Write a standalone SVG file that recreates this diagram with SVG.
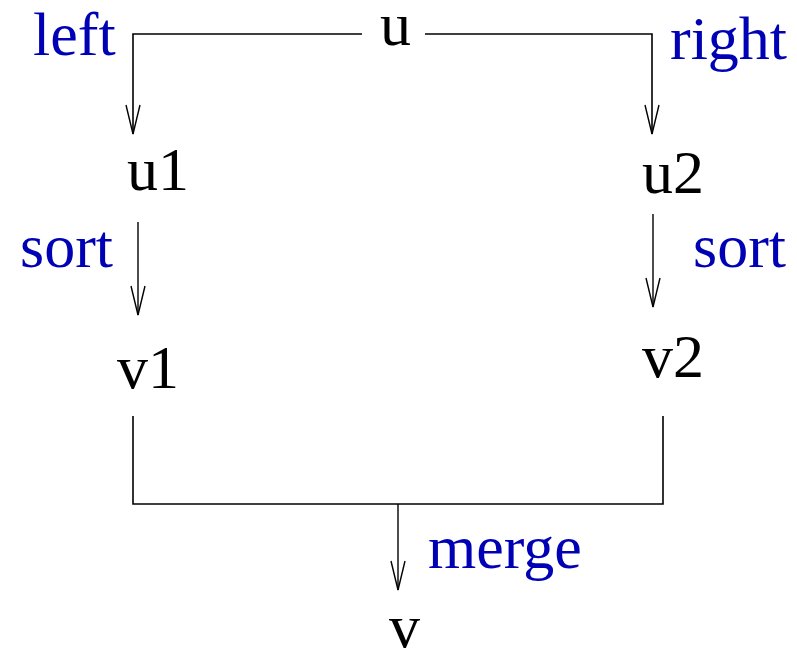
<svg xmlns="http://www.w3.org/2000/svg" width="797" height="648" viewBox="0 0 797 648">
<style>
.n{font-family:"Liberation Serif","Times New Roman",serif;font-size:62px;fill:#000}
.l{font-family:"Liberation Serif","Times New Roman",serif;font-size:62px;fill:#0000b4}
.c{fill:none;stroke:#000;stroke-width:1.6}
.a{fill:none;stroke:#000;stroke-width:1.4}
</style>
<defs>
<marker id="arr" markerUnits="userSpaceOnUse" markerWidth="40" markerHeight="20" viewBox="-30 -10 32 20" refX="0" refY="0" orient="auto" overflow="visible">
<path d="M-29,-7 L0,0 L-29,7" fill="none" stroke="#000" stroke-width="1.4"/>
</marker>
</defs>
<rect width="797" height="648" fill="#fff"/>
<g id="connectors">
<path class="c" d="M362,34 H133 V134" marker-end="url(#arr)"/>
<path class="c" d="M425,34 H652 V134" marker-end="url(#arr)"/>
<path class="a" d="M138,222 V315" marker-end="url(#arr)"/>
<path class="a" d="M653,214 V307" marker-end="url(#arr)"/>
<path class="c" d="M133,416 V504 H663 V416" stroke-width="2"/>
<path class="a" d="M398,504 V590" marker-end="url(#arr)"/>
</g>
<g id="labels">
<text class="l" x="33" y="55">left</text>
<text class="l" x="670" y="59">right</text>
<text class="l" x="20" y="267">sort</text>
<text class="l" x="693" y="267">sort</text>
<text class="l" x="428" y="568">merge</text>
</g>
<g id="node-u"><text class="n" x="380" y="45">u</text></g>
<g id="node-u1"><text class="n" x="127" y="190">u1</text></g>
<g id="node-u2"><text class="n" x="642" y="193">u2</text></g>
<g id="node-v1"><text class="n" x="117" y="388">v1</text></g>
<g id="node-v2"><text class="n" x="642" y="377">v2</text></g>
<g id="node-v"><text class="n" x="389" y="647">v</text></g>
</svg>
